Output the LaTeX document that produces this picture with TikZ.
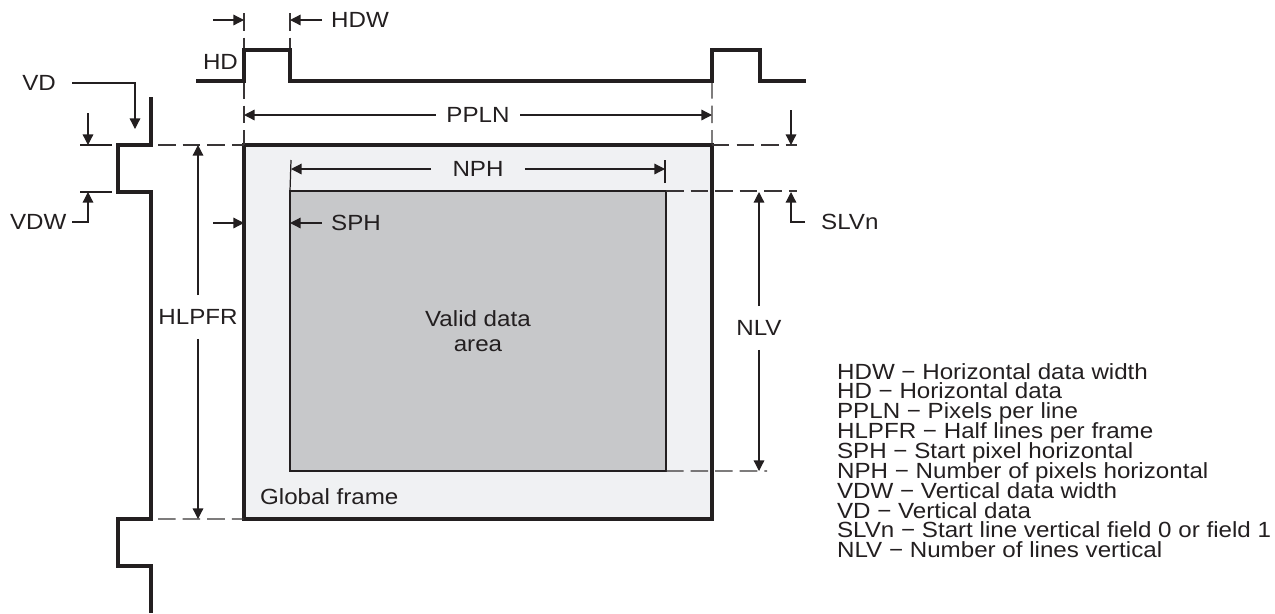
\documentclass[tikz,border=0pt]{standalone}
\usepackage{fontspec}
\setmainfont{Liberation Sans}[FakeStretch=1.1]
\usepackage{tikz}
\usetikzlibrary{arrows.meta, positioning, calc}
\definecolor{tiblack}{RGB}{35, 31, 32}
\definecolor{framelight}{RGB}{240, 241, 243}
\definecolor{validgray}{RGB}{199, 200, 202}
\newcommand{\legendfont}{\fontsize{12.5}{11.3}\selectfont\lineskiplimit=-20pt\relax}

\tikzset{
    wave/.style={line width=2.2pt, draw=tiblack, line join=miter},
    dimline/.style={line width=0.7pt, draw=tiblack, -{Triangle[length=6pt, width=6pt]}},
    extline/.style={line width=0.7pt, draw=tiblack},
    guide/.style={line width=0.7pt, draw=tiblack!90, dash pattern=on 10pt off 4pt},
    lbl/.style={inner sep=1pt, text=tiblack, font=\fontsize{12.5}{14}\selectfont}
}

\begin{document}
\begin{tikzpicture}[x=0.02cm, y=-0.02cm]
    \useasboundingbox (0,0) rectangle (1275,613);

    % frame and valid data area
    \node[draw=tiblack, fill=framelight, line width=2.2pt, outer sep=0pt, anchor=north west,
          minimum width=9.36cm, minimum height=7.48cm] (frame) at (244,145) {};
    \node[draw=tiblack, fill=validgray, line width=1.4pt, outer sep=0pt, anchor=north west,
          minimum width=7.52cm, minimum height=5.6cm, align=center, lbl] (valid) at (290,191) {Valid data\\area};
    \node[lbl, anchor=west] (gframe) at (258,497) {Global frame};

    % guide lines
    \draw[guide] (158,145) -- (frame.north west);
    \draw[guide] (158,519) -- (frame.south west);
    \draw[guide] (frame.north east) -- (797,145);
    \draw[guide] (valid.north east) -- (797,191);
    \draw[guide] (valid.south east) -- (767,471);
    \draw[guide] (244,13) -- (244,50);
    \draw[guide] (290,13) -- (290,50);
    \draw[guide] (244,81) -- (frame.north west);
    \draw[guide] (712,81) -- (frame.north east);
    \draw[extline] (80,145) -- (112,145);
    \draw[extline] (80,192) -- (112,192);
    \draw[extline] (valid.north west) -- (291,160);
    \draw[extline] (665,183) -- (665,160);

    % HD and VD waveforms
    \draw[wave] (196,81) -- (244,81) -- (244,50) -- (290,50) -- (290,81) -- (712,81)
        -- (712,50) -- (760,50) -- (760,81) -- (806,81);
    \draw[wave] (151,97) -- (151,145) -- (118,145) -- (118,192) -- (151,192) -- (151,519)
        -- (118,519) -- (118,566) -- (151,566) -- (151,613);
    \node[lbl, anchor=east] (hd) at (240,62) {HD};

    % named ends of the dimension arrows
    \coordinate (hdw left) at (244,20);
    \coordinate (hdw right) at (290,20);
    \coordinate (hdw lstart) at (213,20);
    \coordinate (vd tip) at (135,129);
    \coordinate (vd top) at (88,113);
    \coordinate (vd top tip) at (88,145);
    \coordinate (vdw tip) at (88,192);
    \coordinate (sph left) at (213,223);
    \coordinate (sph left tip) at (244,223);
    \coordinate (sph tip) at (290,223);
    \coordinate (slv top) at (791,110);
    \coordinate (slv top tip) at (791,145);
    \coordinate (slv tip) at (791,192);

    % HDW
    \draw[dimline] (hdw lstart) -- (hdw left);
    \node[lbl, anchor=west, inner xsep=5pt] (hdw) at (322,20) {HDW};
    \draw[dimline] (hdw.west) -- (hdw right);

    % PPLN
    \node[lbl, inner xsep=6pt] (ppln) at (478,115) {PPLN};
    \draw[dimline] (ppln.west) -- (244,115);
    \draw[dimline] (ppln.east) -- (712,115);

    % NPH
    \node[lbl, inner xsep=12pt] (nph) at (478,169) {NPH};
    \draw[dimline] (nph.west) -- (291,169);
    \draw[dimline] (nph.east) -- (665,169);

    % HLPFR
    \node[lbl, inner ysep=8pt] (hlpfr) at (198,317) {HLPFR};
    \draw[dimline] (hlpfr.north) -- (198,145);
    \draw[dimline] (hlpfr.south) -- (198,519);

    % NLV
    \node[lbl, inner ysep=8pt] (nlv) at (759,328) {NLV};
    \draw[dimline] (nlv.north) -- (759,192);
    \draw[dimline] (nlv.south) -- (759,471);

    % VD and VDW
    \node[lbl, anchor=east, inner xsep=9pt] (vd) at (72,83) {VD};
    \draw[dimline] (vd.east) -| (vd tip);
    \draw[dimline] (vd top) -- (vd top tip);
    \node[lbl, anchor=east, inner xsep=3pt] (vdw) at (72,222) {VDW};
    \draw[dimline] (vdw.east) -| (vdw tip);

    % SPH
    \draw[dimline] (sph left) -- (sph left tip);
    \node[lbl, anchor=west, inner xsep=5pt] (sph) at (322,223) {SPH};
    \draw[dimline] (sph.west) -- (sph tip);

    % SLVn
    \draw[dimline] (slv top) -- (slv top tip);
    \node[lbl, anchor=west, inner xsep=9pt] (slvn) at (805,222) {SLVn};
    \draw[dimline] (slvn.west) -| (slv tip);

    % legend
    \node[lbl, anchor=north west, align=left, font=\legendfont] (legend) at (835,361) {%
        HDW − Horizontal data width\\
        HD − Horizontal data\\
        PPLN − Pixels per line\\
        HLPFR − Half lines per frame\\
        SPH − Start pixel horizontal\\
        NPH − Number of pixels horizontal\\
        VDW − Vertical data width\\
        VD − Vertical data\\
        SLVn − Start line vertical field 0 or field 1\\
        NLV − Number of lines vertical};
\end{tikzpicture}
\end{document}
